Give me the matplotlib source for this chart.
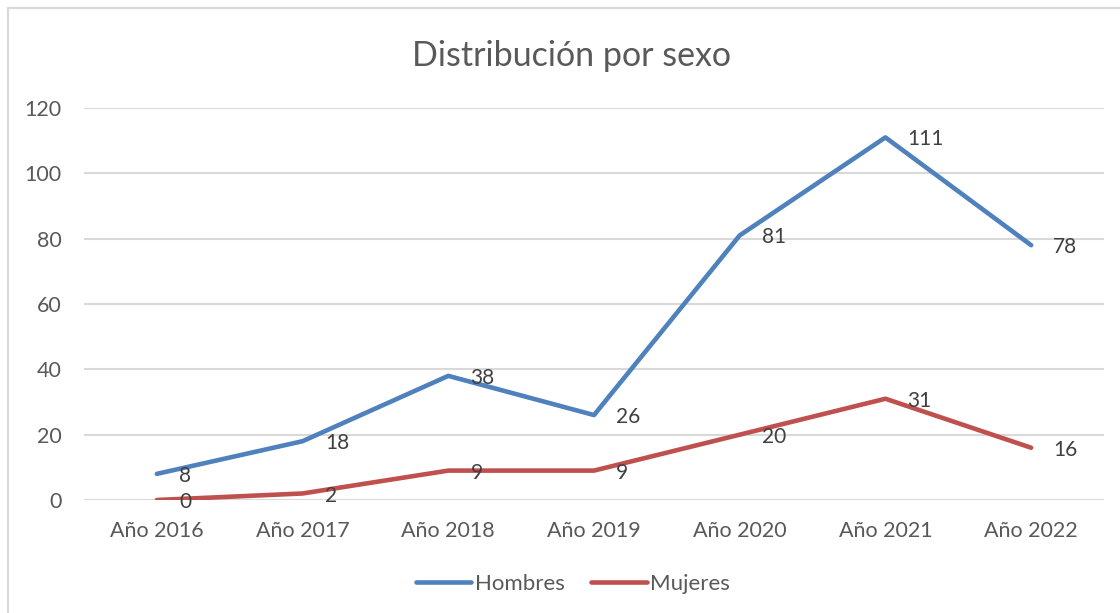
import matplotlib.pyplot as plt
from matplotlib.lines import Line2D

years = ["Año 2016", "Año 2017", "Año 2018", "Año 2019", "Año 2020", "Año 2021", "Año 2022"]
hombres = [8, 18, 38, 26, 81, 111, 78]
mujeres = [0, 2, 9, 9, 20, 31, 16]

plt.rcParams['font.family'] = ['Lato', 'DejaVu Sans']
txt = '#595959'
grid = '#D9D9D9'

W, H = 1120, 613
fig = plt.figure(figsize=(W / 100, H / 100), dpi=100)

# chart frame (left and top edges visible)
fig.add_artist(Line2D([8 / W, 8 / W], [0, 1 - 8 / H], color=grid, lw=1.5))
fig.add_artist(Line2D([8 / W, 1], [1 - 8 / H, 1 - 8 / H], color=grid, lw=1.5))

ax = fig.add_axes([84 / W, 113 / H, 1020 / W, 392 / H])
x = list(range(len(years)))
ax.plot(x, hombres, color='#4F81BD', lw=3.3, solid_capstyle='round', label='Hombres')
ax.plot(x, mujeres, color='#C0504D', lw=3.3, solid_capstyle='round', label='Mujeres')

for serie in (hombres, mujeres):
    for i, v in enumerate(serie):
        ax.annotate(str(v), (i, v), xytext=(16, -1.5), textcoords='offset points',
                    ha='left', va='center', fontsize=15, color='#404040')

ax.set_xlim(-0.5, len(years) - 0.5)
ax.set_ylim(0, 120)
ax.set_yticks(range(0, 121, 20))
ax.set_xticks(x)
ax.set_xticklabels(years)
ax.tick_params(length=0, labelsize=15.5, colors=txt)
ax.tick_params(axis='y', pad=16)
ax.tick_params(axis='x', pad=15)
ax.grid(axis='y', color=grid, lw=1.5)
ax.set_axisbelow(True)
for s in ax.spines.values():
    s.set_visible(False)

fig.text(571 / W, 1 - 56 / H, 'Distribución por sexo', ha='center', va='center',
         fontsize=24.5, color=txt)

fig.legend(loc='center', bbox_to_anchor=(573 / W, 1 - 584 / H), ncol=2, frameon=False,
           fontsize=16, labelcolor=txt, handlelength=2.5, handletextpad=0.15,
           columnspacing=1.2)

fig.savefig('out.png', dpi=100)
